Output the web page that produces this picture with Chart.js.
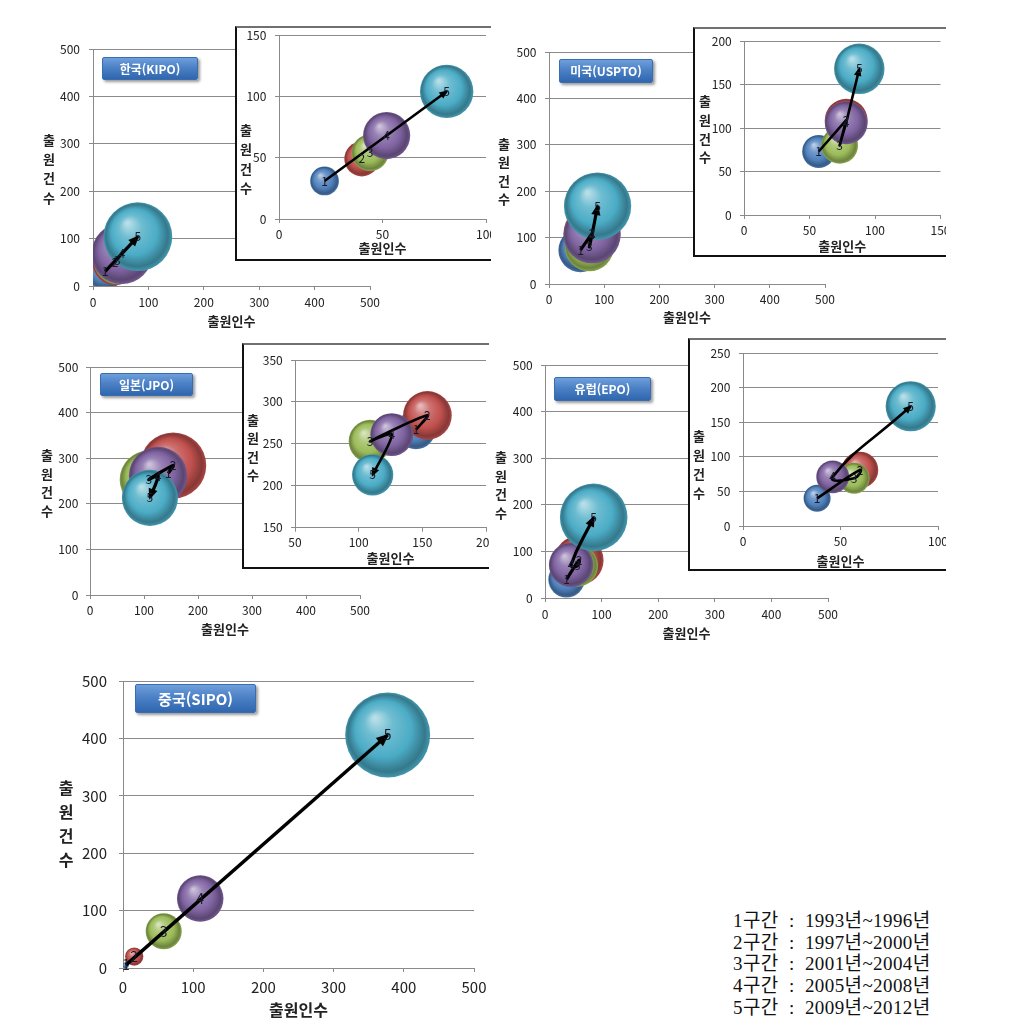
<!DOCTYPE html>
<html lang="ko">
<head>
<meta charset="utf-8">
<title>출원인수 / 출원건수 버블 차트</title>
<script src="https://cdn.jsdelivr.net/npm/chart.js@4.4.1/dist/chart.umd.min.js"></script>
<style>
  html, body { margin: 0; padding: 0; background: #fff; }
  #page { position: relative; width: 1010px; height: 1030px; overflow: hidden; font-family: 'Noto Sans CJK KR', 'Noto Sans', sans-serif; }
  .inset { position: absolute; background: #fff; box-sizing: border-box; overflow: hidden; z-index: 2;
           border-left: 2px solid #111; border-bottom: 2px solid #111; border-top: 2px solid #707070; }
  .ytitle { position: absolute; width: 20px; text-align: center; font-weight: bold; font-size: 13px; color: #222; z-index: 3; }
  .tag { position: absolute; box-sizing: border-box; z-index: 1; color: #fff; font-weight: bold; font-size: 12px; text-align: center;
         background: linear-gradient(180deg, #6f9fdb 0%, #4c81c6 45%, #2f66ae 100%); border: 1px solid #3a6cb0; border-radius: 2px;
         box-shadow: 2px 2px 3px rgba(0,0,0,0.4); }
  .legend { position: absolute; left: 733px; top: 910px; font-family: 'Liberation Serif', 'Noto Sans CJK KR', serif; font-size: 19px;
            letter-spacing: 0.4px; line-height: 21.7px; color: #111; white-space: pre; }
</style>
</head>
<body>
<div id="page">
  <div class="tag" style="left:102px;top:57px;width:96px;height:23px;line-height:21px">한국(KIPO)</div>
  <div class="tag" style="left:559px;top:59px;width:94px;height:24px;line-height:22px">미국(USPTO)</div>
  <div class="tag" style="left:100px;top:373px;width:93px;height:23px;line-height:21px">일본(JPO)</div>
  <div class="tag" style="left:554px;top:377px;width:97px;height:24px;line-height:22px">유럽(EPO)</div>
  <div class="tag" style="left:135px;top:684px;width:121px;height:29px;line-height:27px;font-size:15px">중국(SIPO)</div>

  <div class="ytitle" style="left:39px;top:130px;line-height:19.2px">출<br>원<br>건<br>수</div>
  <div class="ytitle" style="left:494px;top:135px;line-height:18.4px">출<br>원<br>건<br>수</div>
  <div class="ytitle" style="left:37px;top:446px;line-height:18.6px">출<br>원<br>건<br>수</div>
  <div class="ytitle" style="left:491px;top:448px;line-height:18.7px">출<br>원<br>건<br>수</div>
  <div class="ytitle" style="left:56px;top:776px;line-height:23.9px;font-size:16px">출<br>원<br>건<br>수</div>
  <div class="ytitle" style="left:236px;top:120px;line-height:19.3px">출<br>원<br>건<br>수</div>
  <div class="ytitle" style="left:695px;top:92px;line-height:18.8px">출<br>원<br>건<br>수</div>
  <div class="ytitle" style="left:243px;top:411px;line-height:18.3px">출<br>원<br>건<br>수</div>
  <div class="ytitle" style="left:689px;top:427px;line-height:18.9px">출<br>원<br>건<br>수</div>

  <div class="legend" id="legend"></div>
</div>
<script>
// 구간 번호와 기간
const segments = ['1', '2', '3', '4', '5'];
const periods = ['1993년~1996년', '1997년~2000년', '2001년~2004년', '2005년~2008년', '2009년~2012년'];
const seriesColors = ['#4F81BD', '#C0504D', '#9BBB59', '#8064A2', '#4BACC6'];

const mainTicks = [0, 100, 200, 300, 400, 500];

// 한국(KIPO)
const krApplicants = [22, 40, 44, 52, 81];
const krFilings = [31, 49, 54, 68, 104];
const krBubble = [29, 43, 48, 78, 100];
const krArrow = [1, 5];
const krInsetX = [0, 50, 100];
const krInsetY = [0, 50, 100, 150];

// 미국(USPTO)
const usApplicants = [57, 78, 73, 78, 88];
const usFilings = [73, 109, 80, 106, 168];
const usBubble = [43, 72, 53, 72, 100];
const usArrow = [1, 2, 3, 4, 5];
const usInsetX = [0, 50, 100, 150];
const usInsetY = [0, 50, 100, 150, 200];

// 일본(JPO)
const jpApplicants = [145, 154, 109, 126, 111];
const jpFilings = [267, 284, 253, 261, 213];
const jpBubble = [65, 100, 78, 78, 72];
const jpArrow = [1, 2, 3, 4, 5];
const jpInsetX = [50, 100, 150, 200];
const jpInsetY = [150, 200, 250, 300, 350];

// 유럽(EPO)
const euApplicants = [38, 60, 57, 46, 86];
const euFilings = [40, 81, 69, 71, 173];
const euBubble = [29, 53, 38, 43, 100];
const euArrow = [1, 2, 3, 4, 5];
const euInsetX = [0, 50, 100];
const euInsetY = [0, 50, 100, 150, 200, 250];

// 중국(SIPO)
const cnApplicants = [4, 16, 58, 110, 377];
const cnFilings = [5, 20, 64, 121, 406];
const cnBubble = [0.5, 4.6, 18, 30, 100];
const cnArrow = [1, 5];

const FONT = "'Noto Sans CJK KR', 'Noto Sans', sans-serif";
const R_FACTOR = 0.145;   // largest bubble radius vs. smaller plot side
const page = document.getElementById('page');

document.getElementById('legend').textContent =
  segments.map((s, i) => `${s}구간  :  ${periods[i]}`).join('\n');

function shade(hex, t) {
  const n = parseInt(hex.slice(1), 16);
  const tgt = t > 0 ? 255 : 0, k = Math.abs(t);
  const ch = [n >> 16, (n >> 8) & 255, n & 255].map(v => Math.round(v + (tgt - v) * k));
  return `rgb(${ch.join(',')})`;
}

// 3D-ish sphere fill like the Excel bubbles
function sphereFill(ctx) {
  if (ctx.type !== 'data') return '#888';
  const base = seriesColors[ctx.dataIndex];
  const ch = ctx.chart, raw = ctx.raw;
  if (!ch.chartArea || !raw) return base;
  const x = ch.scales.x.getPixelForValue(raw.x), y = ch.scales.y.getPixelForValue(raw.y);
  if (!Number.isFinite(x) || !Number.isFinite(y) || !(raw.r > 0)) return base;
  const r = raw.r;
  const g = ch.ctx.createRadialGradient(x - r * 0.3, y - r * 0.4, r * 0.04, x, y, r);
  g.addColorStop(0, shade(base, 0.6));
  g.addColorStop(0.3, shade(base, 0.2));
  g.addColorStop(0.65, base);
  g.addColorStop(0.9, shade(base, -0.3));
  g.addColorStop(1, shade(base, -0.12));
  return g;
}

// arrow head + bubble labels
function marks(L) {
  return {
    id: 'marks',
    afterDatasetsDraw(chart) {
      const c = chart.ctx;
      const pts = chart.getDatasetMeta(1).data;
      const tip = pts[pts.length - 1], prev = pts[pts.length - 2];
      let fx = prev.x, fy = prev.y;
      if (Number.isFinite(tip.cp1x) && Math.hypot(tip.x - tip.cp1x, tip.y - tip.cp1y) > 1) { fx = tip.cp1x; fy = tip.cp1y; }
      const a = Math.atan2(tip.y - fy, tip.x - fx);
      const tx = tip.x + 2 * Math.cos(a), ty = tip.y + 2 * Math.sin(a);
      const len = L.head, half = L.head * 0.42;
      const bx = tx - len * Math.cos(a), by = ty - len * Math.sin(a);
      c.save();
      c.fillStyle = '#000';
      c.beginPath();
      c.moveTo(tx, ty);
      c.lineTo(bx + half * Math.sin(a), by - half * Math.cos(a));
      c.lineTo(bx - half * Math.sin(a), by + half * Math.cos(a));
      c.closePath();
      c.fill();
      c.font = `${L.label}px ${FONT}`;
      c.textAlign = 'center';
      c.textBaseline = 'middle';
      c.fillStyle = '#1a1a2a';
      chart.getDatasetMeta(0).data.forEach((el, i) => c.fillText(segments[i], el.x, el.y));
      c.restore();
    }
  };
}

function panel(host, origin, d, L) {
  const [cl, ct, cr, cb] = L.canvas;
  const [pl, pt, pr, pb] = L.plot;
  const cv = document.createElement('canvas');
  cv.width = cr - cl;
  cv.height = cb - ct;
  cv.style.cssText = `position:absolute;left:${cl - origin[0]}px;top:${ct - origin[1]}px;width:${cr - cl}px;height:${cb - ct}px`;
  host.appendChild(cv);

  const rMax = R_FACTOR * Math.min(pr - pl, pb - pt);
  const sMax = Math.max(...d.sizes);
  const bubbles = d.xs.map((x, i) => ({ x, y: d.ys[i], r: rMax * Math.sqrt(d.sizes[i] / sMax) }));
  const path = d.arrow.map(k => ({ x: d.xs[k - 1], y: d.ys[k - 1] }));
  const tickFont = { family: FONT, size: L.tick };
  const gridCol = '#8a8a8a';

  new Chart(cv, {
    type: 'bubble',
    data: {
      datasets: [
        { type: 'bubble', data: bubbles, backgroundColor: sphereFill, borderWidth: 0, clip: 0, order: 1 },
        { type: 'line', data: path, borderColor: '#000', borderWidth: L.lineW, pointRadius: 0,
          tension: L.tension || 0, fill: false, clip: 0, order: 0, borderJoinStyle: 'round' }
      ]
    },
    options: {
      responsive: false,
      animation: false,
      events: [],
      layout: { autoPadding: false, padding: { left: 0, top: pt - ct, right: cr - pr, bottom: 0 } },
      plugins: { legend: { display: false }, tooltip: { enabled: false } },
      scales: {
        x: {
          type: 'linear',
          min: d.xTicks[0], max: d.xTicks[d.xTicks.length - 1],
          afterFit: s => { s.height = cb - pb; },
          ticks: { stepSize: d.xTicks[1] - d.xTicks[0], color: '#222', font: tickFont, padding: L.xPad, maxRotation: 0, autoSkip: false },
          grid: { drawOnChartArea: false, drawTicks: true, tickLength: 4, color: gridCol },
          border: { color: gridCol },
          title: { display: true, text: '출원인수', color: '#222', font: { family: FONT, size: L.title, weight: 'bold' },
                   padding: { top: 0, bottom: L.titlePad } }
        },
        y: {
          type: 'linear',
          min: d.yTicks[0], max: d.yTicks[d.yTicks.length - 1],
          afterFit: s => { s.width = pl - cl; },
          ticks: { stepSize: d.yTicks[1] - d.yTicks[0], color: '#222', font: tickFont, padding: L.yPad },
          grid: { color: gridCol, tickLength: 4 },
          border: { color: gridCol }
        }
      }
    },
    plugins: [marks(L)]
  });
}

function insetBox(rect) {
  const div = document.createElement('div');
  div.className = 'inset';
  div.style.cssText = `left:${rect[0]}px;top:${rect[1]}px;width:${rect[2] - rect[0]}px;height:${rect[3] - rect[1]}px`;
  page.appendChild(div);
  return div;
}

const mainStyle = { tick: 12, title: 13, label: 12, lineW: 3.2, head: 11 };
const insetStyle = { tick: 12, title: 13, label: 12, lineW: 2.6, head: 9 };

// main panels (0~500)
panel(page, [0, 0],
  { xs: krApplicants, ys: krFilings, sizes: krBubble, arrow: krArrow, xTicks: mainTicks, yTicks: mainTicks },
  { ...mainStyle, canvas: [40, 30, 390, 335], plot: [93, 49, 370, 286], xPad: 5, yPad: 9, titlePad: 6.5 });
panel(page, [0, 0],
  { xs: usApplicants, ys: usFilings, sizes: usBubble, arrow: usArrow, xTicks: mainTicks, yTicks: mainTicks },
  { ...mainStyle, canvas: [495, 30, 845, 335], plot: [549, 52, 825, 284], xPad: 4, yPad: 8.5, titlePad: 10.5 });
panel(page, [0, 0],
  { xs: jpApplicants, ys: jpFilings, sizes: jpBubble, arrow: jpArrow, xTicks: mainTicks, yTicks: mainTicks },
  { ...mainStyle, canvas: [40, 345, 380, 645], plot: [90, 367, 360, 595], xPad: 4, yPad: 7.7, titlePad: 8.2, tension: 0.3 });
panel(page, [0, 0],
  { xs: euApplicants, ys: euFilings, sizes: euBubble, arrow: euArrow, xTicks: mainTicks, yTicks: mainTicks },
  { ...mainStyle, canvas: [495, 345, 848, 650], plot: [545, 365, 828, 598], xPad: 5, yPad: 8.3, titlePad: 9.5, tension: 0.5 });
panel(page, [0, 0],
  { xs: cnApplicants, ys: cnFilings, sizes: cnBubble, arrow: cnArrow, xTicks: mainTicks, yTicks: mainTicks },
  { tick: 15, title: 16, label: 14, lineW: 3.4, head: 13, canvas: [60, 660, 495, 1030], plot: [123, 675, 474, 968],
    xPad: 6, yPad: 12, titlePad: 10.4 });

// inset (zoomed) panels
let box = [235, 26, 491, 261];
panel(insetBox(box), [box[0] + 2, box[1] + 2],
  { xs: krApplicants, ys: krFilings, sizes: krBubble, arrow: krArrow, xTicks: krInsetX, yTicks: krInsetY },
  { ...insetStyle, canvas: [237, 18, 525, 259], plot: [279, 35, 486, 219], xPad: 4, yPad: 8.6, titlePad: 2.9 });
box = [693, 27, 946, 257];
panel(insetBox(box), [box[0] + 2, box[1] + 2],
  { xs: usApplicants, ys: usFilings, sizes: usBubble, arrow: usArrow, xTicks: usInsetX, yTicks: usInsetY },
  { ...insetStyle, canvas: [695, 19, 980, 255], plot: [744, 41, 940.5, 215], xPad: 4, yPad: 8.3, titlePad: 1.5 });
box = [242, 343, 489, 569];
panel(insetBox(box), [box[0] + 2, box[1] + 2],
  { xs: jpApplicants, ys: jpFilings, sizes: jpBubble, arrow: jpArrow, xTicks: jpInsetX, yTicks: jpInsetY },
  { ...insetStyle, canvas: [244, 335, 525, 567], plot: [295, 360, 486, 527.7], xPad: 4, yPad: 8.3, titlePad: 0.9, tension: 0.3 });
box = [688, 338, 946, 571];
panel(insetBox(box), [box[0] + 2, box[1] + 2],
  { xs: euApplicants, ys: euFilings, sizes: euBubble, arrow: euArrow, xTicks: euInsetX, yTicks: euInsetY },
  { ...insetStyle, canvas: [690, 330, 980, 569], plot: [743, 353, 938, 526], xPad: 4, yPad: 8.6, titlePad: 0.5, tension: 0.5 });
</script>
</body>
</html>
